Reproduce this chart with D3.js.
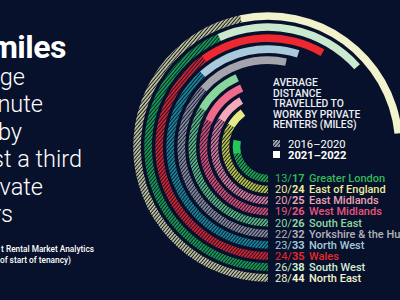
<!DOCTYPE html>
<html>
<head>
  <meta charset="utf-8">
  <title>Average distance travelled to work by private renters</title>
  <script src="https://d3js.org/d3.v7.min.js"></script>
  <style>
    body{margin:0;background:#07112b;}
    svg{display:block;font-family:Roboto,"Noto Sans",sans-serif;}
  </style>
</head>
<body>
  <script>
      var w=400;
      var h=300;
      var regions=["Greater London","East of England","East Midlands","West Midlands","South East",
                   "Yorkshire & the Humber","North West","Wales","South West","North East"];
      var miles2016=[13,20,20,19,20,22,23,24,26,28];
      var miles2021=[17,24,25,26,26,32,33,35,38,44];
      var hatchColors=["#1fae4e","#c6cf45","#e27ea0","#e04f78","#5fbf82","#8e8e9e","#1a8a9b","#e0222c","#17a24f","#c8c99a"];
      var solidColors=["#27c65a","#e6ea86","#f4a9bb","#ef6a8b","#88d69b","#a4a4ac","#a9cadb","#ee2830","#cbe9cf","#f2f2cc"];
      var textColors=["#33b85c","#ecec9c","#eaa3b6","#e9557d","#8fd5a2","#b2b2ba","#a6c8da","#e8272f","#d3ecd4","#f1f1cf"];
      var titleLines=["AVERAGE","DISTANCE","TRAVELLED TO","WORK BY PRIVATE","RENTERS (MILES)"];
      var keyLabels=["2016\u20132020","2021\u20132022"];
      var headLines=["ge","nute","by","st a third","ivate","rs"];
      var sourceLines=["t Rental Market Analytics","of start of tenancy)"];

      var cx=268, cy=147;
      var bandW=7.6;

      var svg=d3.select("body").append("svg")
                .attr("width",w).attr("height",h);
      svg.append("rect").attr("width",w).attr("height",h).attr("fill","#07112b");

      var defs=svg.append("defs");
      function hatch(id,color){
        var p=defs.append("pattern").attr("id",id)
          .attr("patternUnits","userSpaceOnUse").attr("width",2.6).attr("height",2.6)
          .attr("patternTransform","rotate(40)");
        p.append("rect").attr("width",2.6).attr("height",2.6).attr("fill","#0c1630");
        p.append("rect").attr("width",1.6).attr("height",2.6).attr("fill",color);
      }
      hatchColors.forEach(function(c,i){ hatch("h"+i,c); });
      hatch("hkey","#b8b8c0");

      // radius of each band, angle per mile
      var r=d3.scalePoint().domain(regions).range([31.5,131]);
      var ang=d3.scaleLinear().domain([0,45]).range([0,1.5*Math.PI]);
      var arc=d3.arc();

      var g=svg.append("g").attr("transform","translate("+cx+","+cy+")");
      regions.forEach(function(d,i){
        var rr=r(d);
        g.append("path")
         .attr("d",arc({innerRadius:rr-bandW/2,outerRadius:rr+bandW/2,
                        startAngle:Math.PI,endAngle:Math.PI+ang(miles2016[i])}))
         .attr("fill","url(#h"+i+")");
        g.append("path")
         .attr("d",arc({innerRadius:rr-bandW/2,outerRadius:rr+bandW/2,
                        startAngle:Math.PI+ang(miles2016[i]),endAngle:Math.PI+ang(miles2021[i])}))
         .attr("fill",solidColors[i]);
      });

      // row labels
      var rows=svg.selectAll("text.row").data(regions).enter().append("text")
        .attr("class","row")
        .attr("x",275)
        .attr("y",function(d){return cy+r(d)+3.8;})
        .attr("font-size",11)
        .attr("fill",function(d,i){return textColors[i];});
      rows.append("tspan").text(function(d,i){return miles2016[i]+"/";});
      rows.append("tspan").attr("font-weight",700).text(function(d,i){return miles2021[i];});
      svg.selectAll("text.name").data(regions).enter().append("text")
        .attr("class","name")
        .attr("x",309)
        .attr("y",function(d){return cy+r(d)+3.8;})
        .attr("font-size",11)
        .attr("font-weight",500)
        .attr("fill",function(d,i){return textColors[i];})
        .text(function(d){return d;});

      // title
      svg.selectAll("text.title").data(titleLines).enter().append("text")
        .attr("class","title")
        .attr("x",273)
        .attr("y",function(d,i){return 86+i*10.5;})
        .attr("font-size",10.3)
        .attr("font-weight",500)
        .attr("fill","#eceef4")
        .text(function(d){return d;});

      // key
      svg.append("rect").attr("x",273).attr("y",140).attr("width",7).attr("height",7).attr("fill","url(#hkey)");
      svg.append("rect").attr("x",273).attr("y",151).attr("width",7).attr("height",7).attr("fill","#ffffff");
      svg.selectAll("text.key").data(keyLabels).enter().append("text")
        .attr("class","key")
        .attr("x",288)
        .attr("y",function(d,i){return 147.5+i*11;})
        .attr("font-size",11.2)
        .attr("font-weight",function(d,i){return i?700:400;})
        .attr("fill","#ffffff")
        .text(function(d){return d;});

      // headline text on the left
      svg.append("text").attr("x",66).attr("y",58).attr("text-anchor","end")
        .attr("font-size",32).attr("font-weight",700).attr("letter-spacing",-0.5)
        .attr("fill","#ffffff").text("miles");
      var headRight=[25,43,22,82,43,13];
      svg.selectAll("text.head").data(headLines).enter().append("text")
        .attr("class","head")
        .attr("x",function(d,i){return headRight[i];})
        .attr("y",function(d,i){return 85+i*27.4;})
        .attr("text-anchor","end")
        .attr("font-size",23.5)
        .attr("font-weight",300)
        .attr("fill","#ffffff")
        .text(function(d){return d;});
      var srcRight=[94,71];
      svg.selectAll("text.src").data(sourceLines).enter().append("text")
        .attr("class","src")
        .attr("x",function(d,i){return srcRight[i];})
        .attr("y",function(d,i){return 252+i*10.5;})
        .attr("text-anchor","end")
        .attr("font-size",8.3)
        .attr("font-weight",500)
        .attr("fill","#ffffff")
        .text(function(d){return d;});
  </script>
</body>
</html>
